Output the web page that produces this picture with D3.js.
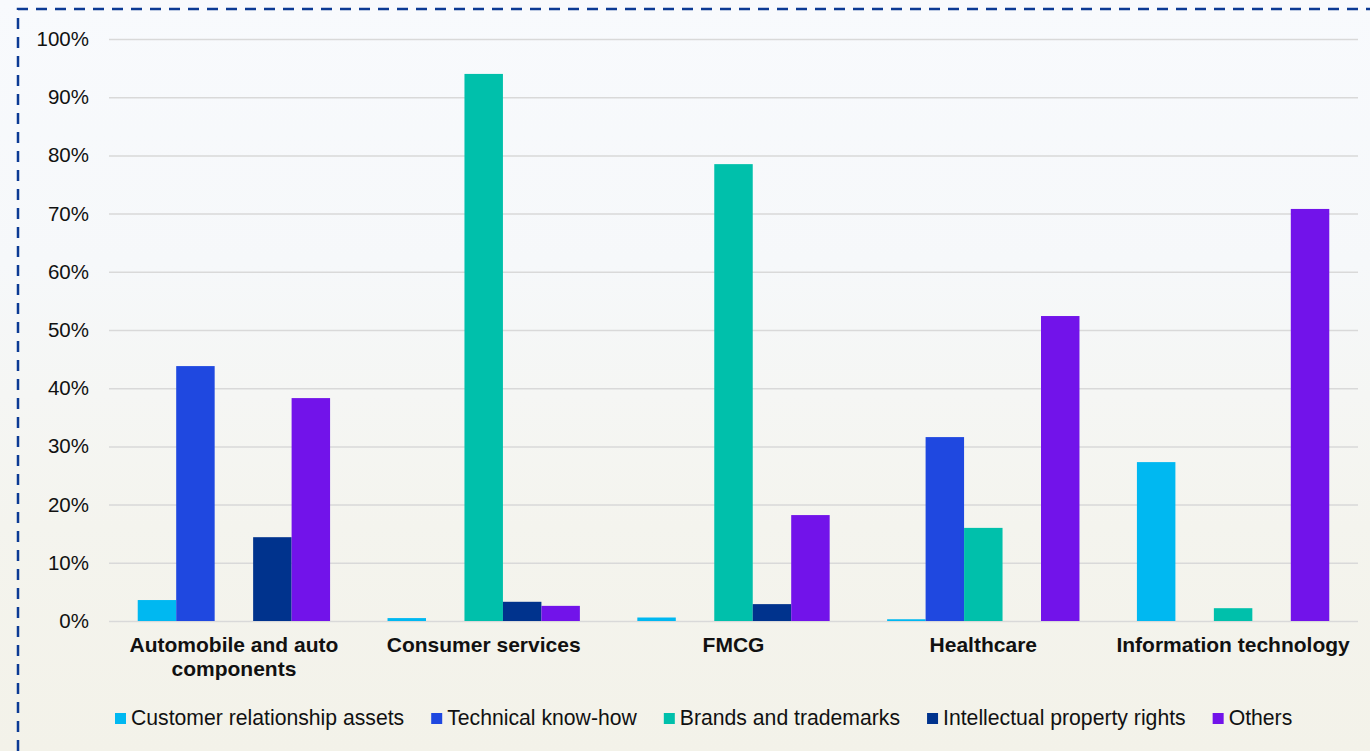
<!DOCTYPE html>
<html>
<head>
<meta charset="utf-8">
<script src="https://cdn.jsdelivr.net/npm/d3@7"></script>
<style>
  html, body { margin: 0; padding: 0; background: #f6f7f5; }
  svg { display: block; }
</style>
</head>
<body>
<svg id="chart" width="1370" height="751"></svg>
<script>
const categories = ["Automobile and auto components", "Consumer services", "FMCG", "Healthcare", "Information technology"];
const seriesNames = ["Customer relationship assets", "Technical know-how", "Brands and trademarks", "Intellectual property rights", "Others"];
const seriesColors = ["#00B8F1", "#1F48E0", "#00C0AB", "#00338D", "#7213EA"];
const customerRelationship = [3.6, 0.5, 0.6, 0.3, 27.3];
const technicalKnowHow = [43.8, 0, 0, 31.6, 0];
const brandsTrademarks = [0, 94.0, 78.5, 16.0, 2.2];
const ipRights = [14.4, 3.3, 2.9, 0, 0];
const others = [38.3, 2.6, 18.2, 52.4, 70.8];
const yTicks = [0, 10, 20, 30, 40, 50, 60, 70, 80, 90, 100];

const seriesValues = [customerRelationship, technicalKnowHow, brandsTrademarks, ipRights, others];
const FONT = "'Liberation Sans', Arial, Helvetica, sans-serif";

const svg = d3.select("#chart");
const W = 1370, H = 751;

// background
const defs = svg.append("defs");
const lg = defs.append("linearGradient").attr("id", "bg").attr("x1", 0).attr("y1", 0).attr("x2", 0).attr("y2", 1);
lg.append("stop").attr("offset", "0%").attr("stop-color", "#f8fafd");
lg.append("stop").attr("offset", "35%").attr("stop-color", "#f6f8fa");
lg.append("stop").attr("offset", "70%").attr("stop-color", "#f4f4ee");
lg.append("stop").attr("offset", "100%").attr("stop-color", "#f3f2e9");
svg.append("rect").attr("width", W).attr("height", H).attr("fill", "url(#bg)");

// dashed frame
svg.append("path")
  .attr("d", `M18,${H} L18,9 L${W},9`)
  .attr("fill", "none")
  .attr("stroke", "#0B3A94")
  .attr("stroke-width", 2.5)
  .attr("stroke-dasharray", "11,8");

const plot = { left: 109, right: 1358, top: 39, bottom: 621 };

const y = d3.scaleLinear().domain([0, 100]).range([plot.bottom, plot.top]);
const x0 = d3.scaleBand().domain(categories).range([plot.left, plot.right]).paddingInner(0.23).paddingOuter(0.115);
const x1 = d3.scaleBand().domain(seriesNames).range([0, x0.bandwidth()]);

// gridlines
const yAxis = d3.axisLeft(y).tickValues(yTicks).tickSize(-(plot.right - plot.left)).tickFormat(d => d + "%").tickPadding(20);
const gy = svg.append("g").attr("transform", `translate(${plot.left},0)`).call(yAxis);
gy.select(".domain").remove();
gy.selectAll(".tick line").attr("stroke", "#d9d9d9").attr("stroke-width", 1.5);
gy.selectAll(".tick text").attr("font-family", FONT).attr("font-size", 20.5).attr("fill", "#111");

// bars
const data = categories.map((c, i) => ({ cat: c, vals: seriesNames.map((s, j) => ({ s, j, v: seriesValues[j][i] })) }));
const groups = svg.append("g").selectAll("g").data(data).join("g")
  .attr("transform", d => `translate(${x0(d.cat)},0)`);
groups.selectAll("rect").data(d => d.vals.filter(e => e.v > 0)).join("rect")
  .attr("x", d => x1(d.s))
  .attr("width", x1.bandwidth())
  .attr("y", d => y(d.v))
  .attr("height", d => y(0) - y(d.v))
  .attr("fill", d => seriesColors[d.j]);

// category labels
const catG = svg.append("g");
const wrapLines = {"Automobile and auto components": ["Automobile and auto", "components"]};
categories.forEach(c => {
  const lines = wrapLines[c] || [c];
  const t = catG.append("text")
    .attr("x", x0(c) + x0.bandwidth() / 2)
    .attr("y", 652)
    .attr("text-anchor", "middle")
    .attr("font-family", FONT)
    .attr("font-size", 21)
    .attr("font-weight", "bold")
    .attr("fill", "#111");
  lines.forEach((l, k) => {
    t.append("tspan").attr("x", x0(c) + x0.bandwidth() / 2).attr("dy", k === 0 ? 0 : 24).text(l);
  });
});

// legend
const legend = svg.append("g");
let lx = 115;
seriesNames.forEach((s, j) => {
  legend.append("rect").attr("x", lx).attr("y", 713).attr("width", 11).attr("height", 11).attr("fill", seriesColors[j]);
  const t = legend.append("text")
    .attr("x", lx + 16)
    .attr("y", 725)
    .attr("font-family", FONT)
    .attr("font-size", 21.2)
    .attr("fill", "#111")
    .text(s);
  lx += 16 + t.node().getComputedTextLength() + 27;
});
</script>
</body>
</html>
